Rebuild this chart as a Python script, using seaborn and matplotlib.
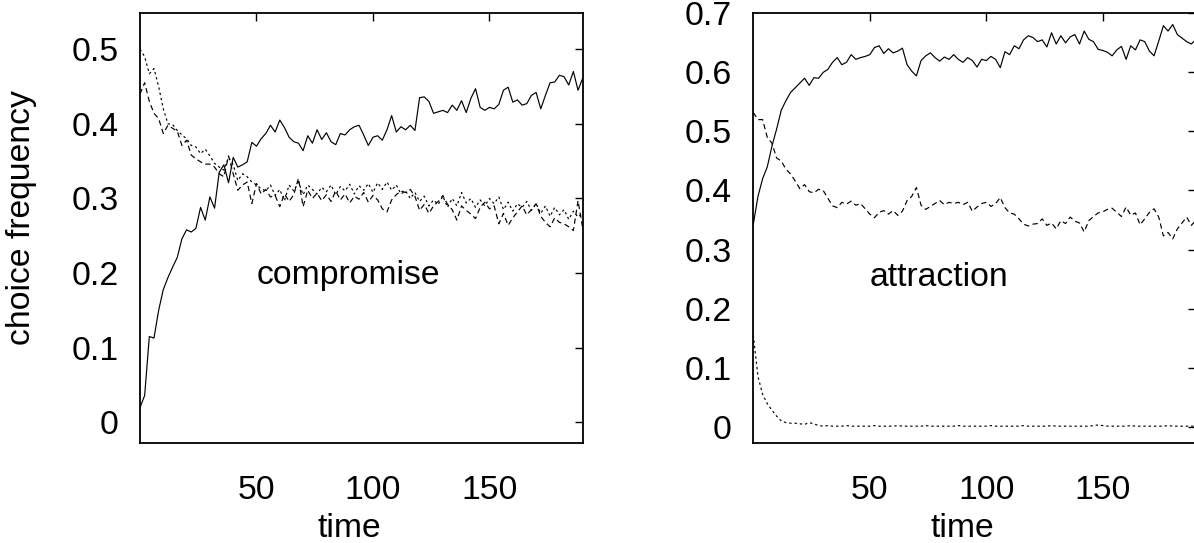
import matplotlib

matplotlib.use("Agg")
import matplotlib.pyplot as plt
import pandas as pd
import seaborn as sns

# time steps (every second step of the simulation is plotted)
TIME = list(range(0, 191, 2))

# compromise panel: target (solid), competitor (dashed), decoy (dotted)
COMPROMISE_SOLID = [
    0.020, 0.036, 0.115, 0.113, 0.150, 0.178, 0.194, 0.208, 0.221, 0.246, 0.258, 0.255,
    0.260, 0.288, 0.271, 0.302, 0.287, 0.335, 0.345, 0.321, 0.355, 0.342, 0.345, 0.349,
    0.375, 0.370, 0.380, 0.387, 0.398, 0.389, 0.405, 0.395, 0.382, 0.376, 0.374, 0.364,
    0.384, 0.374, 0.392, 0.379, 0.388, 0.376, 0.372, 0.387, 0.385, 0.392, 0.396, 0.398,
    0.385, 0.371, 0.382, 0.384, 0.378, 0.392, 0.411, 0.389, 0.396, 0.392, 0.398, 0.391,
    0.435, 0.436, 0.430, 0.414, 0.416, 0.418, 0.415, 0.425, 0.418, 0.431, 0.415, 0.434,
    0.447, 0.422, 0.418, 0.422, 0.420, 0.426, 0.445, 0.449, 0.429, 0.432, 0.425, 0.427,
    0.438, 0.442, 0.420, 0.438, 0.455, 0.456, 0.465, 0.463, 0.452, 0.470, 0.445, 0.461,
]
COMPROMISE_DASHED = [
    0.440, 0.455, 0.430, 0.414, 0.407, 0.387, 0.398, 0.394, 0.390, 0.371, 0.378, 0.358,
    0.353, 0.349, 0.346, 0.346, 0.342, 0.333, 0.329, 0.357, 0.333, 0.311, 0.318, 0.322,
    0.293, 0.320, 0.306, 0.312, 0.302, 0.304, 0.289, 0.306, 0.296, 0.305, 0.327, 0.289,
    0.311, 0.300, 0.307, 0.297, 0.305, 0.296, 0.310, 0.298, 0.306, 0.294, 0.303, 0.299,
    0.308, 0.295, 0.304, 0.298, 0.286, 0.282, 0.298, 0.305, 0.310, 0.308, 0.312, 0.303,
    0.284, 0.292, 0.280, 0.290, 0.296, 0.304, 0.292, 0.285, 0.271, 0.290, 0.284, 0.279,
    0.273, 0.288, 0.295, 0.286, 0.290, 0.266, 0.280, 0.264, 0.274, 0.282, 0.290, 0.278,
    0.285, 0.293, 0.276, 0.268, 0.262, 0.274, 0.268, 0.266, 0.262, 0.257, 0.297, 0.260,
]
COMPROMISE_DOTTED = [
    0.500, 0.490, 0.467, 0.474, 0.450, 0.420, 0.400, 0.399, 0.391, 0.385, 0.380, 0.371,
    0.369, 0.360, 0.366, 0.357, 0.347, 0.342, 0.338, 0.355, 0.345, 0.324, 0.333, 0.329,
    0.322, 0.318, 0.313, 0.310, 0.318, 0.304, 0.312, 0.297, 0.318, 0.310, 0.322, 0.305,
    0.318, 0.312, 0.306, 0.315, 0.309, 0.318, 0.305, 0.316, 0.310, 0.319, 0.306, 0.317,
    0.311, 0.320, 0.308, 0.321, 0.312, 0.322, 0.311, 0.318, 0.306, 0.310, 0.300, 0.308,
    0.296, 0.303, 0.290, 0.298, 0.292, 0.303, 0.288, 0.300, 0.290, 0.308, 0.294, 0.300,
    0.288, 0.298, 0.290, 0.300, 0.293, 0.302, 0.285, 0.295, 0.283, 0.293, 0.288, 0.296,
    0.284, 0.293, 0.280, 0.290, 0.276, 0.288, 0.278, 0.285, 0.272, 0.283, 0.275, 0.280,
]

# attraction panel
ATTRACTION_SOLID = [
    0.343, 0.390, 0.420, 0.440, 0.475, 0.504, 0.536, 0.552, 0.566, 0.574, 0.582, 0.590,
    0.578, 0.591, 0.590, 0.600, 0.605, 0.617, 0.625, 0.613, 0.617, 0.630, 0.622, 0.625,
    0.627, 0.630, 0.642, 0.645, 0.632, 0.640, 0.633, 0.636, 0.641, 0.613, 0.602, 0.594,
    0.620, 0.628, 0.633, 0.625, 0.619, 0.626, 0.622, 0.630, 0.622, 0.617, 0.625, 0.620,
    0.609, 0.622, 0.620, 0.627, 0.622, 0.608, 0.635, 0.630, 0.645, 0.640, 0.655, 0.662,
    0.659, 0.652, 0.655, 0.643, 0.667, 0.648, 0.662, 0.650, 0.660, 0.664, 0.648, 0.670,
    0.656, 0.652, 0.639, 0.637, 0.634, 0.628, 0.638, 0.644, 0.622, 0.645, 0.638, 0.655,
    0.652, 0.636, 0.628, 0.653, 0.679, 0.670, 0.681, 0.664, 0.658, 0.652, 0.648, 0.656,
]
ATTRACTION_DASHED = [
    0.532, 0.520, 0.520, 0.490, 0.480, 0.455, 0.450, 0.436, 0.428, 0.416, 0.403, 0.410,
    0.398, 0.396, 0.402, 0.400, 0.387, 0.374, 0.371, 0.380, 0.377, 0.382, 0.375, 0.378,
    0.369, 0.360, 0.354, 0.363, 0.366, 0.360, 0.366, 0.358, 0.365, 0.383, 0.390, 0.405,
    0.375, 0.368, 0.373, 0.378, 0.383, 0.376, 0.380, 0.378, 0.380, 0.376, 0.380, 0.365,
    0.372, 0.378, 0.380, 0.373, 0.378, 0.388, 0.371, 0.362, 0.360, 0.352, 0.343, 0.340,
    0.343, 0.344, 0.352, 0.341, 0.345, 0.335, 0.349, 0.344, 0.355, 0.348, 0.345, 0.330,
    0.349, 0.356, 0.362, 0.364, 0.368, 0.370, 0.363, 0.356, 0.372, 0.358, 0.362, 0.342,
    0.352, 0.363, 0.369, 0.355, 0.323, 0.329, 0.318, 0.335, 0.345, 0.355, 0.341, 0.350,
]
ATTRACTION_DOTTED = [
    0.155, 0.085, 0.055, 0.039, 0.028, 0.018, 0.010, 0.007, 0.006, 0.006, 0.005, 0.004,
    0.007, 0.005, 0.002, 0.001, 0.002, 0.001, 0.001, 0.001, 0.002, 0.001, 0.001, 0.001,
    0.001, 0.001, 0.002, 0.001, 0.001, 0.001, 0.001, 0.002, 0.001, 0.001, 0.001, 0.001,
    0.001, 0.002, 0.001, 0.001, 0.001, 0.001, 0.001, 0.001, 0.002, 0.001, 0.001, 0.001,
    0.001, 0.001, 0.001, 0.002, 0.001, 0.001, 0.001, 0.001, 0.001, 0.001, 0.002, 0.001,
    0.001, 0.001, 0.001, 0.001, 0.002, 0.001, 0.001, 0.001, 0.001, 0.001, 0.001, 0.001,
    0.001, 0.002, 0.003, 0.002, 0.001, 0.001, 0.001, 0.001, 0.001, 0.002, 0.001, 0.001,
    0.001, 0.001, 0.001, 0.001, 0.001, 0.002, 0.001, 0.001, 0.001, 0.001, 0.001, 0.001,
]

LEFT_YTICKS = [0, 0.1, 0.2, 0.3, 0.4, 0.5]
LEFT_YTICKLABELS = ["0", "0.1", "0.2", "0.3", "0.4", "0.5"]
RIGHT_YTICKS = [0, 0.1, 0.2, 0.3, 0.4, 0.5, 0.6, 0.7]
RIGHT_YTICKLABELS = ["0", "0.1", "0.2", "0.3", "0.4", "0.5", "0.6", "0.7"]
XTICKS = [50, 100, 150]
XTICKLABELS = ["50", "100", "150"]

DASHES = {"solid": "", "dashed": (4.5, 3.0), "dotted": (2.0, 2.5)}
FS = 24.3


def long_frame(solid: list, dashed: list, dotted: list) -> pd.DataFrame:
    parts = []
    for name, vals in (("solid", solid), ("dashed", dashed), ("dotted", dotted)):
        parts.append(pd.DataFrame({"time": TIME, "freq": vals, "line": name}))
    return pd.concat(parts, ignore_index=True)


def draw_panel(ax, df, ylim, yticks, yticklabels, label, label_y) -> None:
    sns.lineplot(
        data=df,
        x="time",
        y="freq",
        style="line",
        dashes=DASHES,
        color="black",
        linewidth=0.85,
        errorbar=None,
        sort=False,
        legend=False,
        ax=ax,
    )
    ax.set_xlim(0, 190)
    ax.set_ylim(*ylim)
    ax.set_xticks(XTICKS)
    ax.set_xticklabels(XTICKLABELS)
    ax.set_yticks(yticks)
    ax.set_yticklabels(yticklabels)
    ax.tick_params(direction="in", length=5.8, width=1.0, top=True, right=True,
                   labelsize=FS, color="black", labelcolor="black")
    ax.tick_params(axis="x", pad=22.5)
    ax.tick_params(axis="y", pad=15.5)
    for sp in ax.spines.values():
        sp.set_visible(True)
        sp.set_linewidth(1.3)
        sp.set_color("black")
    ax.text(50, label_y, label, ha="left", va="baseline", fontsize=FS, color="black")
    ax.set_xlabel("time", fontsize=FS, va="baseline", color="black")
    ax.xaxis.set_label_coords(0.473, -0.219)
    ax.set_ylabel("")


def main() -> None:
    sns.set_style("white")
    plt.rcParams["font.family"] = ["Liberation Sans", "DejaVu Sans"]
    plt.rcParams["text.color"] = "black"
    plt.rcParams["axes.labelcolor"] = "black"

    fig = plt.figure(figsize=(11.94, 5.43), dpi=100)
    ax_left = fig.add_axes([0.11725, 0.18361, 0.37077, 0.7919])
    ax_right = fig.add_axes([0.63091, 0.18361, 0.37077, 0.7919])

    draw_panel(
        ax_left,
        long_frame(COMPROMISE_SOLID, COMPROMISE_DASHED, COMPROMISE_DOTTED),
        (-0.028, 0.548),
        LEFT_YTICKS,
        LEFT_YTICKLABELS,
        "compromise",
        0.185,
    )
    draw_panel(
        ax_right,
        long_frame(ATTRACTION_SOLID, ATTRACTION_DASHED, ATTRACTION_DOTTED),
        (-0.028, 0.699),
        RIGHT_YTICKS,
        RIGHT_YTICKLABELS,
        "attraction",
        0.239,
    )
    ax_left.set_ylabel("choice frequency", fontsize=FS, color="black")
    ax_left.yaxis.set_label_coords(-0.2333, 0.526)

    fig.savefig("out.png", dpi=100)
    plt.close(fig)


if __name__ == "__main__":
    main()
